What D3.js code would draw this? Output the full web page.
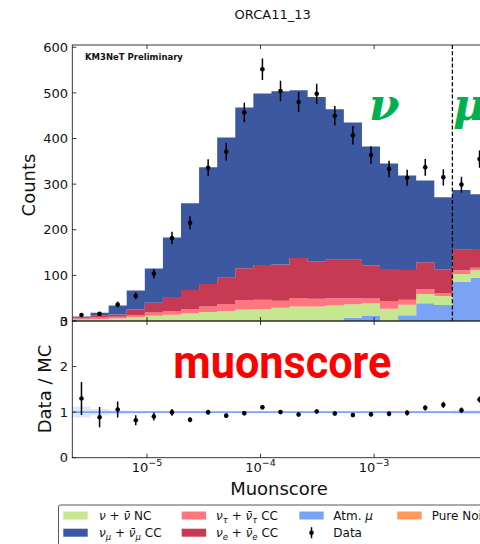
<!DOCTYPE html>
<html>
<head>
<meta charset="utf-8">
<script src="https://cdn.jsdelivr.net/npm/d3@7"></script>
<style>
  html, body { margin: 0; padding: 0; background: #fff; }
  svg { display: block; font-family: "DejaVu Sans", sans-serif; }
</style>
</head>
<body>
<svg id="chart" width="480" height="544"></svg>
<script>
// ---------------- DATA ----------------
const binEdges = [2.206e-6, 3.183e-6, 4.594e-6, 6.630e-6, 9.568e-6, 1.381e-5, 1.993e-5, 2.876e-5,
  4.150e-5, 5.990e-5, 8.644e-5, 1.2474e-4, 1.800e-4, 2.598e-4, 3.750e-4, 5.411e-4, 7.810e-4,
  1.127e-3, 1.6265e-3, 2.347e-3, 3.387e-3, 4.888e-3, 7.055e-3, 1.018e-2];
const atmMu    = [0, 0, 0, 0, 0, 0, 0, 0, 0, 0, 0, 0, 0, 0, 0, 7, 11, 0, 12.4, 38.8, 35, 86, 95];
const nuNC     = [3.5, 4.5, 5.5, 8.5, 11.5, 13.5, 16.5, 19.5, 22, 25, 26.5, 29, 32, 32, 34, 29.6, 27.8, 27, 23, 20.6, 20, 17, 16];
const nuTauCC  = [2, 3, 4, 4.5, 7, 8.5, 10, 12.5, 15, 21, 20, 15.5, 18.5, 17, 15.6, 13, 10.5, 15.5, 11.1, 10.6, 6.5, 8, 6];
const nuECC    = [2.5, 4, 5, 12, 21.5, 30.5, 41.5, 49, 58, 69.5, 76, 79.5, 87.5, 82, 84.4, 84.4, 72.7, 71.5, 65.5, 59, 52, 45, 41];
const nuMuCC   = [2, 6.5, 19.5, 42, 75, 130.5, 190, 256, 307, 352.5, 376, 379.5, 368, 360, 330, 301, 260.5, 231, 207, 179, 158, 131, 120];
const pureNoise = [0, 0, 0, 0, 0, 0, 0, 0, 0, 0, 0, 0, 0, 0, 0, 0, 0, 0, 0, 0, 0, 0, 0];
const dataCounts = [13, 16, 36, 55, 104, 182, 215, 336, 371, 457, 552, 504, 480, 498, 450, 407, 364, 333, 314, 337, 315, 299, 355];
const mcRelErr = [0.12, 0.07, 0.04, 0.03, 0.02, 0.015, 0.012, 0.01, 0.01, 0.01, 0.01, 0.01, 0.01, 0.01, 0.01, 0.01, 0.012, 0.012, 0.015, 0.02, 0.025, 0.04, 0.04];
const regionCut = 4.888e-3;
const countTicks = [0, 100, 200, 300, 400, 500, 600];
const ratioTicks = [0, 1, 2, 3];
const xTicks = [1e-5, 1e-4, 1e-3];
const xTickExp = ["\u22125", "\u22124", "\u22123"];
const title = "ORCA11_13";

// stacking order bottom -> top
const layers = [
  { key: "atm", values: atmMu, color: "#7ba3f5" },
  { key: "nc", values: nuNC, color: "#c4e78f" },
  { key: "tau", values: nuTauCC, color: "#ff7580" },
  { key: "e", values: nuECC, color: "#c63a53" },
  { key: "mu", values: nuMuCC, color: "#3c58a0" },
  { key: "noise", values: pureNoise, color: "#ff9a5c" }
];

// ---------------- LAYOUT ----------------
const svg = d3.select("#chart");
const L = 72.3, R = 486;
const topY0 = 45, topY1 = 321;
const botY0 = 321, botY1 = 457.7;

const x = d3.scaleLog().domain([2.2e-6, 9.66e-3]).range([L, R]);
const y = d3.scaleLinear().domain([0, 605]).range([topY1, topY0]);
const yr = d3.scaleLinear().domain([0, 3]).range([botY1, botY0]);

const nBins = binEdges.length - 1;
const centers = d3.range(nBins).map(i => Math.sqrt(binEdges[i] * binEdges[i + 1]));

// cumulative stacks
let cum = new Array(nBins).fill(0);
const stacked = layers.map(l => {
  const lo = cum.slice();
  const hi = cum.map((c, i) => c + l.values[i]);
  cum = hi;
  return { ...l, lo, hi };
});
const totalMC = cum;

// clip for top panel
const defs = svg.append("defs");
defs.append("clipPath").attr("id", "clipTop").append("rect")
  .attr("x", L).attr("y", topY0).attr("width", R - L).attr("height", topY1 - topY0);
defs.append("clipPath").attr("id", "clipBot").append("rect")
  .attr("x", L).attr("y", botY0).attr("width", R - L).attr("height", botY1 - botY0);

// ---------------- TOP PANEL ----------------
const gTop = svg.append("g").attr("clip-path", "url(#clipTop)");
const stepPts = (arrLo, arrHi) => {
  const pts = [];
  for (let i = 0; i < nBins; i++) pts.push({ x: binEdges[i], lo: arrLo[i], hi: arrHi[i] });
  pts.push({ x: binEdges[nBins], lo: arrLo[nBins - 1], hi: arrHi[nBins - 1] });
  return pts;
};
const area = d3.area()
  .x(d => x(d.x)).y0(d => y(d.lo)).y1(d => y(d.hi))
  .curve(d3.curveStepAfter);

stacked.forEach(l => {
  gTop.append("path")
    .datum(stepPts(l.lo, l.hi))
    .attr("d", area)
    .attr("fill", l.color)
    .attr("stroke", "none");
});

// region cut dashed line
gTop.append("line")
  .attr("x1", x(regionCut)).attr("x2", x(regionCut))
  .attr("y1", topY0).attr("y2", topY1)
  .attr("stroke", "#000").attr("stroke-width", 1.3).attr("stroke-dasharray", "4,2.2");

// data points
const dataG = gTop.append("g");
dataCounts.forEach((d, i) => {
  const e = Math.sqrt(d);
  dataG.append("line")
    .attr("x1", x(centers[i])).attr("x2", x(centers[i]))
    .attr("y1", y(d - e)).attr("y2", y(d + e))
    .attr("stroke", "#000").attr("stroke-width", 1.5);
  dataG.append("circle")
    .attr("cx", x(centers[i])).attr("cy", y(d)).attr("r", 2.3).attr("fill", "#000");
});

// texts in top panel
svg.append("text").attr("x", 85).attr("y", 59.8)
  .attr("font-size", 8.5).attr("font-weight", "bold").attr("fill", "#111")
  .text("KM3NeT Preliminary");
svg.append("text").attr("x", 369).attr("y", 120)
  .attr("font-family", "DejaVu Serif").attr("font-style", "italic").attr("font-weight", "bold")
  .attr("font-size", 44).attr("fill", "#00b050").text("\u03bd");
svg.append("text").attr("x", 453).attr("y", 120)
  .attr("font-family", "DejaVu Serif").attr("font-style", "italic").attr("font-weight", "bold")
  .attr("font-size", 44).attr("fill", "#00b050").text("\u03bc");

// frame top
svg.append("rect").attr("x", L).attr("y", topY0).attr("width", R - L).attr("height", topY1 - topY0)
  .attr("fill", "none").attr("stroke", "#222").attr("stroke-width", 0.9);

// y ticks top
const tickLen = 4;
countTicks.forEach(t => {
  svg.append("line").attr("x1", L).attr("x2", L + tickLen).attr("y1", y(t)).attr("y2", y(t))
    .attr("stroke", "#222").attr("stroke-width", 0.9);
  svg.append("text").attr("x", 68).attr("y", y(t)).attr("dy", "0.36em")
    .attr("text-anchor", "end").attr("font-size", 13).attr("fill", "#111").text(t);
});
// x ticks top panel (top & bottom, inward)
xTicks.forEach(t => {
  svg.append("line").attr("x1", x(t)).attr("x2", x(t)).attr("y1", topY0).attr("y2", topY0 + tickLen)
    .attr("stroke", "#222").attr("stroke-width", 0.9);
  svg.append("line").attr("x1", x(t)).attr("x2", x(t)).attr("y1", topY1).attr("y2", topY1 - tickLen)
    .attr("stroke", "#222").attr("stroke-width", 0.9);
});

svg.append("text").attr("transform", `translate(35,185) rotate(-90)`)
  .attr("text-anchor", "middle").attr("font-size", 18).attr("fill", "#111").text("Counts");

// title
svg.append("text").attr("x", 272.7).attr("y", 18.7).attr("text-anchor", "middle")
  .attr("font-size", 13).attr("fill", "#111").text(title);

// ---------------- RATIO PANEL ----------------
const gBot = svg.append("g").attr("clip-path", "url(#clipBot)");
const bandPts = [];
for (let i = 0; i < nBins; i++) bandPts.push({ x: binEdges[i], lo: 1 - mcRelErr[i], hi: 1 + mcRelErr[i] });
bandPts.push({ x: binEdges[nBins], lo: 1 - mcRelErr[nBins - 1], hi: 1 + mcRelErr[nBins - 1] });
gBot.append("path").datum(bandPts)
  .attr("d", d3.area().x(d => x(d.x)).y0(d => yr(d.lo)).y1(d => yr(d.hi)).curve(d3.curveStepAfter))
  .attr("fill", "#7ba3f5").attr("opacity", 0.25);
gBot.append("line").attr("x1", L).attr("x2", R).attr("y1", yr(1)).attr("y2", yr(1))
  .attr("stroke", "#7ba3f5").attr("stroke-width", 1.6);

dataCounts.forEach((d, i) => {
  const r = d / totalMC[i];
  const e = Math.sqrt(d) / totalMC[i];
  gBot.append("line")
    .attr("x1", x(centers[i])).attr("x2", x(centers[i]))
    .attr("y1", yr(r - e)).attr("y2", yr(r + e))
    .attr("stroke", "#000").attr("stroke-width", 1.5);
  gBot.append("circle")
    .attr("cx", x(centers[i])).attr("cy", yr(r)).attr("r", 2.3).attr("fill", "#000");
});

svg.append("rect").attr("x", L).attr("y", botY0).attr("width", R - L).attr("height", botY1 - botY0)
  .attr("fill", "none").attr("stroke", "#222").attr("stroke-width", 0.9);

ratioTicks.forEach(t => {
  svg.append("line").attr("x1", L).attr("x2", L + tickLen).attr("y1", yr(t)).attr("y2", yr(t))
    .attr("stroke", "#222").attr("stroke-width", 0.9);
  svg.append("text").attr("x", 68).attr("y", yr(t)).attr("dy", "0.36em")
    .attr("text-anchor", "end").attr("font-size", 13).attr("fill", "#111").text(t);
});
xTicks.forEach((t, i) => {
  svg.append("line").attr("x1", x(t)).attr("x2", x(t)).attr("y1", botY0).attr("y2", botY0 + tickLen)
    .attr("stroke", "#222").attr("stroke-width", 0.9);
  svg.append("line").attr("x1", x(t)).attr("x2", x(t)).attr("y1", botY1).attr("y2", botY1 - tickLen)
    .attr("stroke", "#222").attr("stroke-width", 0.9);
  const tx = svg.append("text").attr("x", x(t)).attr("y", 471.7).attr("text-anchor", "middle")
    .attr("font-size", 13).attr("fill", "#111");
  tx.append("tspan").text("10");
  tx.append("tspan").attr("dy", -6).attr("font-size", 9.5).text(xTickExp[i]);
});

svg.append("text").attr("transform", `translate(51,389) rotate(-90)`)
  .attr("text-anchor", "middle").attr("font-size", 18).attr("fill", "#111").text("Data / MC");
svg.append("text").attr("x", 279).attr("y", 495).attr("text-anchor", "middle")
  .attr("font-size", 18).attr("fill", "#111").text("Muonscore");

svg.append("text").attr("x", 173.3).attr("y", 378.3)
  .attr("font-family", "Roboto").attr("font-weight", "bold").attr("font-size", 47)
  .attr("fill", "#ff0000").attr("textLength", 218).attr("lengthAdjust", "spacingAndGlyphs")
  .text("muonscore");

// ---------------- LEGEND ----------------
const leg = svg.append("g");
leg.append("rect").attr("x", 58.5).attr("y", 505).attr("width", 460).attr("height", 60).attr("rx", 2)
  .attr("fill", "#fff").attr("stroke", "#444").attr("stroke-width", 0.9);

const nuBar = "\u03bd\u0304";
const legendItems = [
  { col: 0, row: 0, color: "#c4e78f", parts: [["\u03bd", "i"], [" + ", ""], [nuBar, "i"], [" NC", ""]] },
  { col: 0, row: 1, color: "#3c58a0", parts: [["\u03bd", "i"], ["\u03bc", "s"], [" + ", ""], [nuBar, "i"], ["\u03bc", "s"], [" CC", ""]] },
  { col: 1, row: 0, color: "#ff7580", parts: [["\u03bd", "i"], ["\u03c4", "s"], [" + ", ""], [nuBar, "i"], ["\u03c4", "s"], [" CC", ""]] },
  { col: 1, row: 1, color: "#c63a53", parts: [["\u03bd", "i"], ["e", "s"], [" + ", ""], [nuBar, "i"], ["e", "s"], [" CC", ""]] },
  { col: 2, row: 0, color: "#7ba3f5", parts: [["Atm. ", ""], ["\u03bc", "i"]] },
  { col: 2, row: 1, color: null, parts: [["Data", ""]] },
  { col: 3, row: 0, color: "#ff9a5c", parts: [["Pure Noise", ""]] }
];
const colX = [63.3, 181.7, 299.3, 397.3];
const textX = [99, 216, 333.3, 431.7];
const rowY = [515.5, 532.7];
legendItems.forEach(it => {
  const cx = colX[it.col], cy = rowY[it.row];
  if (it.color) {
    leg.append("rect").attr("x", cx).attr("y", cy - 4).attr("width", 24.4).attr("height", 8)
      .attr("fill", it.color);
  } else {
    leg.append("line").attr("x1", cx + 12.2).attr("x2", cx + 12.2).attr("y1", cy - 5.5).attr("y2", cy + 5.5)
      .attr("stroke", "#000").attr("stroke-width", 1.5);
    leg.append("circle").attr("cx", cx + 12.2).attr("cy", cy).attr("r", 2.3).attr("fill", "#000");
  }
  const t = leg.append("text").attr("x", textX[it.col]).attr("y", cy + 4.3)
    .attr("font-size", 12).attr("fill", "#111");
  let sub = false;
  it.parts.forEach(([s, st]) => {
    const sp = t.append("tspan").text(s);
    if (st === "i") sp.attr("font-style", "italic");
    if (st === "s") { sp.attr("font-style", "italic").attr("font-size", 8.5).attr("dy", 3); sub = true; }
    else if (sub) { sp.attr("dy", -3); sub = false; }
  });
});
</script>
</body>
</html>
